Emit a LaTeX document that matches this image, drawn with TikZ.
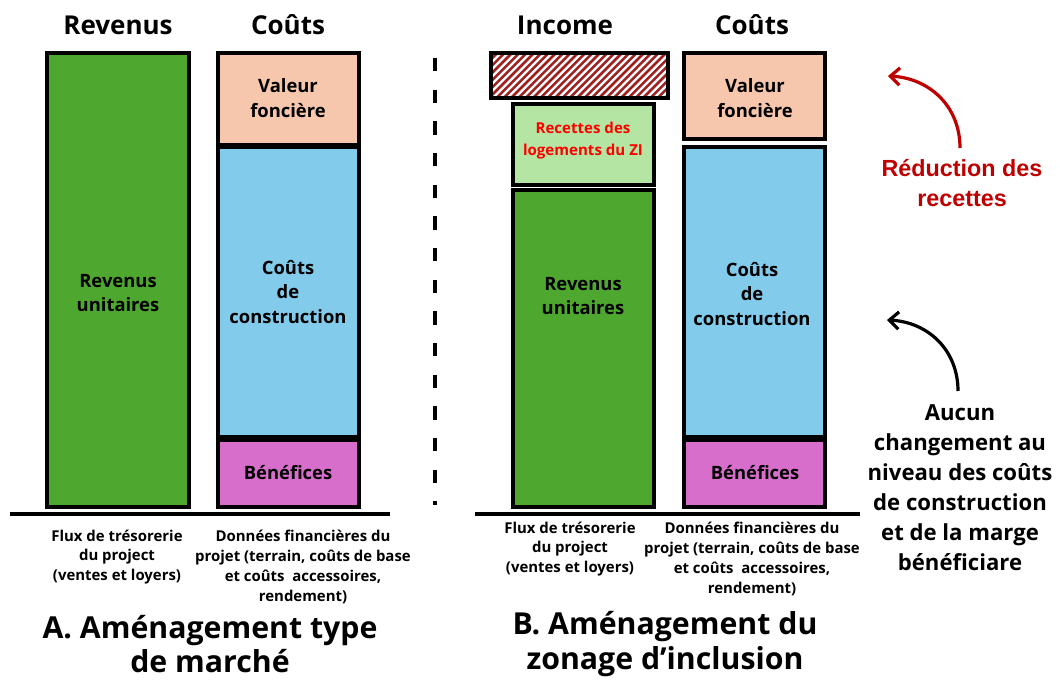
\documentclass[tikz,border=0pt]{standalone}
\usepackage{fontspec}
\setmainfont{Open Sans}
\newfontfamily\arialf{Liberation Sans}
\usetikzlibrary{fit,arrows.meta}
\definecolor{gA}{HTML}{4EA72E}
\definecolor{peach}{HTML}{F6C6AD}
\definecolor{lblue}{HTML}{83CBEB}
\definecolor{mag}{HTML}{D86ECC}
\definecolor{lgreen}{HTML}{B4E5A2}
\definecolor{dred}{HTML}{C00000}
\definecolor{hred}{HTML}{A02020}
\begin{document}
\begin{tikzpicture}[x=0.75pt,y=-0.75pt,
 box/.style={draw=black, line width=2.4pt, inner sep=0pt},
 btxt/.style={align=center, inner sep=0pt, font=\bfseries\fontsize{13.8}{18.5}\selectfont},
 ttl/.style={font=\bfseries\fontsize{19.5}{22}\selectfont},
 note/.style={align=center, inner sep=0pt, font=\bfseries\fontsize{11.2}{14.9}\selectfont},
 big/.style={align=center, inner sep=0pt, font=\bfseries\fontsize{22.7}{25.8}\selectfont},
 side/.style={align=center, inner sep=0pt, font=\bfseries\fontsize{16.6}{22.5}\selectfont},
 base/.style={line width=3pt},
 curarrow/.style={line width=2.4pt, -{Straight Barb[length=7pt,width=13pt]}}
]
\useasboundingbox (0,0) rectangle (1060,682);

% ---- Panel A ----
\node[ttl] (tRevA) at (118,25) {Revenus};
\node[ttl] (tCoutA) at (288,25) {Coûts};
\node[box, fill=gA, fit={(47,53) (189,507)}] (revA) {};
\node[box, fill=peach, fit={(218,53) (359,145)}] (valA) {};
\node[box, fill=lblue, fit={(218,147) (359,437)}] (ccA) {};
\node[box, fill=mag, fit={(218,440) (359,507)}] (benA) {};
\node[btxt] (revAt) at (118,293) {Revenus\\unitaires};
\node[btxt] (valAt) at (288,98) {Valeur\\foncière};
\node[btxt] (ccAt) at (288,292) {Coûts\\de\\construction};
\node[btxt] (benAt) at (288,473) {Bénéfices};
\coordinate (bAl) at (10,514);
\coordinate (bAr) at (390,514);
\draw[base] (bAl) -- (bAr);
\node[note] (nA1) at (117,557) {Flux de trésorerie\\du project\\(ventes et loyers)};
\node[note] (nA2) at (303,567) {Données financières du\\projet (terrain, coûts de base\\et coûts\ \ accessoires,\\rendement)};
\node[big] (capA) at (210,644) {A. Aménagement type\\de marché};

% ---- separator ----
\coordinate (sepT) at (435,58);
\coordinate (sepB) at (435,505);
\draw[line width=3pt, dash pattern=on 10pt off 13.75pt] (sepT) -- (sepB);

% ---- Panel B ----
\node[ttl] (tIncB) at (565,25) {Income};
\node[ttl] (tCoutB) at (752,25) {Coûts};
\node[box, fill=white, fit={(491,53) (668,98)},
  path picture={\foreach \k in {-40,-34.5,...,150}{\draw[hred,line width=1.9pt] ([xshift=\k pt]path picture bounding box.south west) -- ++(40pt,40pt);}}] (hatch) {};
\node[box, fill=lgreen, fit={(513,104) (654,185)}] (zi) {};
\node[box, fill=gA, fit={(513,190) (654,507)}] (revB) {};
\node[box, fill=peach, fit={(684,53) (825,139)}] (valB) {};
\node[box, fill=lblue, fit={(684,147) (825,437)}] (ccB) {};
\node[box, fill=mag, fit={(684,440) (825,507)}] (benB) {};
\node[align=center, inner sep=0pt, text=red, font=\bfseries\fontsize{11.3}{16.5}\selectfont] (zit) at (583,141) {Recettes des\\logements du ZI};
\node[btxt] (revBt) at (583,296) {Revenus\\unitaires};
\node[btxt] (valBt) at (755,98) {Valeur\\foncière};
\node[btxt] (ccBt) at (752,294) {Coûts\\de\\construction};
\node[btxt] (benBt) at (755,473) {Bénéfices};
\coordinate (bBl) at (475,514);
\coordinate (bBr) at (860,514);
\draw[base] (bBl) -- (bBr);
\node[note] (nB1) at (570,549) {Flux de trésorerie\\du project\\(ventes et loyers)};
\node[note] (nB2) at (752,559) {Données financières du\\projet (terrain, coûts de base\\et coûts\ \ accessoires,\\rendement)};
\node[big] (capB) at (665,644) {B. Aménagement du\\zonage d’inclusion};

% ---- side annotations ----
\node[side, text=dred, font=\arialf\bfseries\fontsize{17.5}{22}\selectfont] (red) at (962,183) {Réduction des\\recettes};
\coordinate (redS) at (960,148);
\coordinate (redTip) at (888,76);
\draw[curarrow, dred] (redS) .. controls (960,105) and (928,78) .. (redTip);

\node[side] (blk) at (960,488) {Aucun\\changement au\\niveau des coûts\\de construction\\et de la marge\\bénéficiare};
\coordinate (blkS) at (958,391);
\coordinate (blkTip) at (887,320);
\draw[curarrow, black] (blkS) .. controls (958,350) and (928,322) .. (blkTip);
\end{tikzpicture}
\end{document}
